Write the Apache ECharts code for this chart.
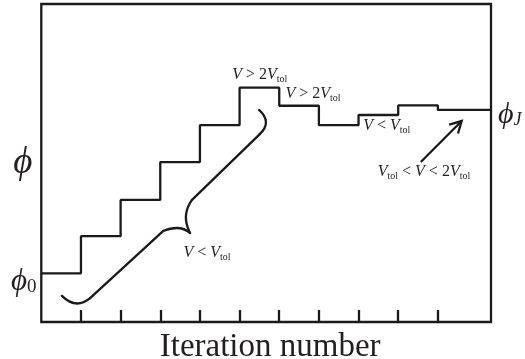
<!DOCTYPE html>
<html><head><meta charset="utf-8">
<script src="https://cdn.jsdelivr.net/npm/echarts@6/dist/echarts.min.js"></script>
<style>html,body{margin:0;padding:0;background:#fff}#c{width:525px;height:359px}</style>
</head><body><div id="c"></div>
<script>
// Data
const iterations = [0, 1, 2, 3, 4, 5, 6, 7, 8, 9, 10, 11.34];
const phiValues  = [15.3, 27.0, 38.4, 50.3, 61.9, 73.7, 68.0, 61.9, 65.1, 68.1, 66.7, 66.7];
const tickIterations = [1, 2, 3, 4, 5, 6, 7, 8, 9, 10];
const xLabel = 'Iteration number';
const yLabel = 'ϕ';
// annotations: [x, y, richText]
const annotations = [
  [5.51, 77.7, '{v|V} > 2{v|V}{s|tol}'],
  [6.85, 71.7, '{v|V} > 2{v|V}{s|tol}'],
  [8.71, 61.6, '{v|V} < {v|V}{s|tol}'],
  [9.65, 47.2, '{v|V}{s|tol} < {v|V} < 2{v|V}{s|tol}'],
  [4.18, 21.7, '{v|V} < {v|V}{s|tol}']
];
const phiStart = [-0.44, 12.5];
const phiEnd = [11.81, 65.0];
// brace (curly bracket) in data coordinates: [start, control, end] (control null = straight)
const braceParts = [
  [[5.49, 66.7], [5.83, 62.9], [5.51, 59.1]],
  [[5.51, 59.1], null, [3.80, 38.4]],
  [[3.80, 38.4], [3.52, 33.6], [3.75, 28.0]],
  [[3.75, 28.0], [3.50, 30.8], [3.07, 28.6]],
  [[3.07, 28.6], null, [1.23, 7.5]],
  [[1.23, 7.5], [0.875, 3.8], [0.52, 8.2]]
];
const arrowTail = [9.57, 50.3];
const arrowTip = [10.60, 63.2];

const ink = '#1a1a1a';
const serif = '"Liberation Serif","DejaVu Serif",serif';
const chart = echarts.init(document.getElementById('c'));
chart.setOption({
  animation: false,
  grid: {left: 41.3, right: 34, top: 4, bottom: 37, show: true, borderColor: ink, borderWidth: 2.3, backgroundColor: 'transparent', outerBoundsMode: 'none', containLabel: false},
  xAxis: {
    type: 'value', min: 0, max: 11.34, interval: 1,
    axisLine: {show: false},
    axisTick: {show: true, inside: true, length: 12, lineStyle: {color: ink, width: 2.3}, customValues: tickIterations},
    axisLabel: {show: false},
    splitLine: {show: false},
    name: xLabel, nameLocation: 'middle', nameGap: 9,
    nameTextStyle: {fontFamily: serif, fontSize: 33, color: '#231f20', verticalAlign: 'top', padding: [0, 0, 0, 8]}
  },
  yAxis: {
    type: 'value', min: 0, max: 100,
    axisLine: {show: false}, axisTick: {show: false}, axisLabel: {show: false}, splitLine: {show: false},
    name: yLabel, nameLocation: 'middle', nameRotate: 0, nameGap: 9,
    nameTextStyle: {fontFamily: serif, fontSize: 37, fontStyle: 'italic', color: '#231f20', align: 'right', verticalAlign: 'middle', padding: [14, 0, 0, 0]}
  },
  series: [{
    type: 'line', step: 'end', showSymbol: false, silent: true,
    lineStyle: {color: ink, width: 2.3},
    data: iterations.map((x, i) => [x, phiValues[i]])
  }]
});

const P = p => chart.convertToPixel({gridIndex: 0}, p);
const rich = {
  v: {fontFamily: serif, fontStyle: 'italic', fontSize: 16, fill: '#231f20'},
  s: {fontFamily: serif, fontSize: 10, fill: '#231f20', padding: [9, 0, 0, 0]}
};
const graphics = [];
annotations.forEach(a => {
  const p = P([a[0], a[1]]);
  graphics.push({type: 'text', x: p[0], y: p[1], style: {text: a[2], rich: rich, font: '16px ' + serif, fill: '#231f20', align: 'center', verticalAlign: 'middle'}});
});
let p0 = P(phiStart);
graphics.push({type: 'text', x: p0[0], y: p0[1], style: {text: '{p|ϕ}{z|0}', rich: {p: {fontFamily: serif, fontStyle: 'italic', fontSize: 31, fill: '#231f20'}, z: {fontFamily: serif, fontSize: 19, fill: '#231f20', padding: [9, 0, 0, 0]}}, align: 'center', verticalAlign: 'middle'}});
let pJ = P(phiEnd);
graphics.push({type: 'text', x: pJ[0], y: pJ[1], style: {text: '{p|ϕ}{z|J}', rich: {p: {fontFamily: serif, fontStyle: 'italic', fontSize: 30, fill: '#231f20'}, z: {fontFamily: serif, fontStyle: 'italic', fontSize: 18, fill: '#231f20', padding: [9, 0, 0, 0]}}, align: 'center', verticalAlign: 'middle'}});
// brace
braceParts.forEach(seg => {
  const a = P(seg[0]), b = P(seg[2]);
  if (seg[1]) {
    const c = P(seg[1]);
    graphics.push({type: 'bezierCurve', shape: {x1: a[0], y1: a[1], x2: b[0], y2: b[1], cpx1: c[0], cpy1: c[1]}, style: {fill: null, stroke: ink, lineWidth: 2.3, lineCap: 'round'}});
  } else {
    graphics.push({type: 'line', shape: {x1: a[0], y1: a[1], x2: b[0], y2: b[1]}, style: {stroke: ink, lineWidth: 2.3, lineCap: 'round'}});
  }
});
// arrow
const t = P(arrowTail), h = P(arrowTip);
const ang = Math.atan2(h[1] - t[1], h[0] - t[0]);
const hl = 13, spread = 0.5;
const h1 = [h[0] - hl * Math.cos(ang - spread), h[1] - hl * Math.sin(ang - spread)];
const h2 = [h[0] - hl * Math.cos(ang + spread), h[1] - hl * Math.sin(ang + spread)];
graphics.push({type: 'line', shape: {x1: t[0], y1: t[1], x2: h[0], y2: h[1]}, style: {stroke: ink, lineWidth: 2.3}});
graphics.push({type: 'polyline', shape: {points: [h1, h, h2]}, style: {stroke: ink, lineWidth: 2.3, fill: null, lineJoin: 'miter'}});
chart.setOption({graphic: graphics});
</script></body></html>
